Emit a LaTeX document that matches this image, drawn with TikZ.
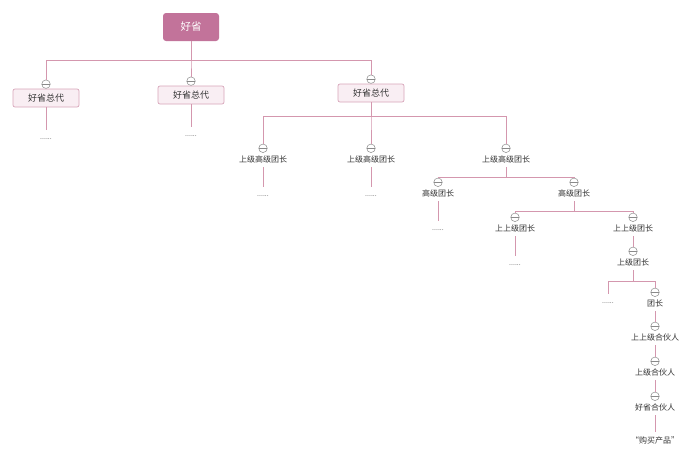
\documentclass[tikz,border=0pt]{standalone}
\usepackage{fontspec}
\setmainfont{Noto Sans CJK SC}
\usepackage{tikz}
\usetikzlibrary{positioning}
\definecolor{haoroot}{HTML}{C2739A}
\definecolor{haoline}{HTML}{D497AE}
\definecolor{haofill}{HTML}{F9EEF3}
\definecolor{haoedge}{HTML}{D8A6BA}
\definecolor{haoicon}{HTML}{8A8A8A}
\definecolor{haotext}{HTML}{333333}

\begin{document}
\begin{tikzpicture}[x=1pt, y=-1pt,
  every node/.style={font=\fontsize{8}{9}\selectfont, text=haotext},
  rootbox/.style={fill=haoroot, rounded corners=3pt, minimum width=56pt,
                  minimum height=28pt, text=white, font=\fontsize{10.5}{12}\selectfont},
  agent/.style={draw=haoedge, fill=haofill, rounded corners=2pt, minimum width=66pt,
                minimum height=18pt, inner sep=0pt, line width=0.7pt,
                font=\fontsize{9}{10}\selectfont},
  member/.style={inner sep=0pt, minimum height=16pt},
  more/.style={inner sep=0pt, minimum height=18pt, text=black!70,
               font=\fontsize{7}{7}\selectfont},
  fold/.style={circle, draw=haoicon, fill=white, minimum size=8.5pt, inner sep=0pt,
               line width=0.5pt,
               path picture={\draw[haoicon, line width=0.5pt]
                 (path picture bounding box.west) -- (path picture bounding box.east);}},
  link/.style={draw=haoline, line width=0.8pt}
]
\useasboundingbox[fill=white] (0,0) rectangle (700,463);

% root and agents
\node[rootbox] (root) at (191,27) {好省};
\node[agent] (zd1) at (46,98) {好省总代};
\node[agent] (zd2) at (191,95) {好省总代};
\node[agent] (zd3) at (371,93) {好省总代};
\node[fold, above=0pt of zd1] (zd1i) {};
\node[fold, above=0pt of zd2] (zd2i) {};
\node[fold, above=0pt of zd3] (zd3i) {};

% members
\node[member] (gz1) at (263,159) {上级高级团长};
\node[member] (gz2) at (371,159) {上级高级团长};
\node[member] (gz3) at (506,159) {上级高级团长};
\node[member] (gj1) at (438,193) {高级团长};
\node[member] (gj2) at (574,193) {高级团长};
\node[member] (ssj1) at (515,228) {上上级团长};
\node[member] (ssj2) at (633,228) {上上级团长};
\node[member] (sj) at (633,262) {上级团长};
\node[member] (tz) at (655,303) {团长};
\node[member] (shh) at (655,337) {上上级合伙人};
\node[member] (sjh) at (655,372) {上级合伙人};
\node[member] (hhh) at (655,407) {好省合伙人};
\node[member] (buy) at (655,440) {“购买产品”};
\foreach \n in {gz1,gz2,gz3,gj1,gj2,ssj1,ssj2,sj,tz,shh,sjh,hhh}
  \node[fold, above=-2pt of \n] (\n i) {};

% collapsed branches
\node[more] (d1) at (46,139) {......};
\node[more] (d2) at (191,136) {......};
\node[more] (d3) at (263,196) {......};
\node[more] (d4) at (371,196) {......};
\node[more] (d5) at (438,230) {......};
\node[more] (d6) at (515,265) {......};
\node[more] (d7) at (608,303) {......};

% connectors
\foreach \c in {zd1i,zd2i,zd3i}
  \draw[link] (root.south) -- ++(0,19) -| (\c.north);
\foreach \c in {gz1i,gz2i,gz3i}
  \draw[link] (zd3.south) -- ++(0,14) -| (\c.north);
\foreach \c in {gj1i,gj2i}
  \draw[link] (gz3.south) -- ++(0,10) -| (\c.north);
\foreach \c in {ssj1i,ssj2i}
  \draw[link] (gj2.south) -- ++(0,10) -| (\c.north);
\draw[link] (sj.south) -- ++(0,11) -| (d7.north);
\draw[link] (sj.south) -- ++(0,11) -| (tzi.north);
\draw[link] (zd1.south) -- (d1.north);
\draw[link] (zd2.south) -- (d2.north);
\draw[link] (gz1.south) -- (d3.north);
\draw[link] (gz2.south) -- (d4.north);
\draw[link] (gj1.south) -- (d5.north);
\draw[link] (ssj1.south) -- (d6.north);
\draw[link] (ssj2.south) -- (sji.north);
\draw[link] (tz.south) -- (shhi.north);
\draw[link] (shh.south) -- (sjhi.north);
\draw[link] (sjh.south) -- (hhhi.north);
\draw[link] (hhh.south) -- (buy.north);
\end{tikzpicture}
\end{document}
